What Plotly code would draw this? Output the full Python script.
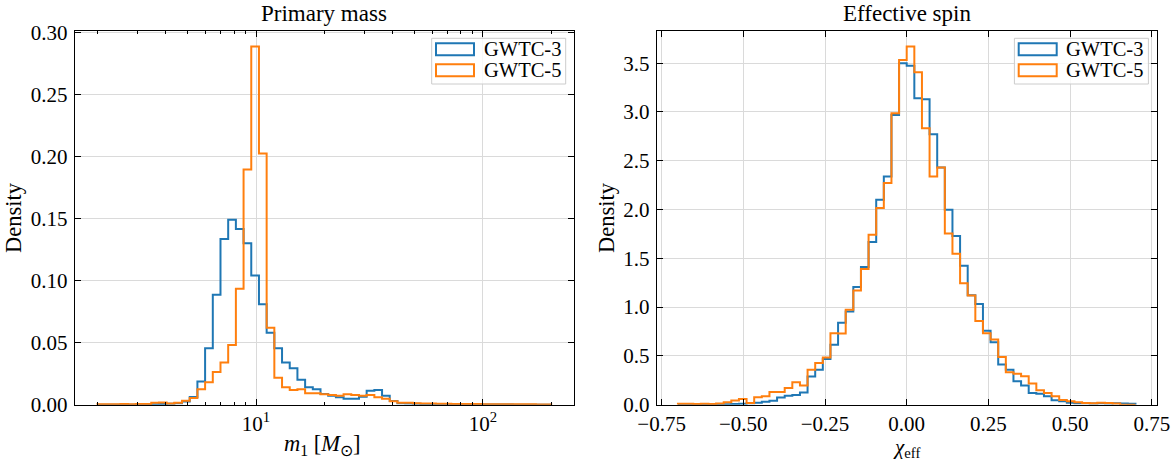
import numpy as np
import plotly.graph_objects as go

# ---------------- data ----------------
# Primary mass histogram (59 log-spaced bins from 2 to 200 Msun)
m1_edges = np.logspace(np.log10(2), np.log10(200), 60)
m1_gwtc3 = [0, 0, 0, 0, 0, 0, 0.0002, 0.0003, 0.0005, 0.0008,
            0.0012, 0.0025, 0.0062, 0.0186, 0.0455, 0.0885, 0.1335, 0.149, 0.1415, 0.130,
            0.104, 0.081, 0.058, 0.0455, 0.034, 0.0294, 0.020, 0.014, 0.0124, 0.0086,
            0.0073, 0.0059, 0.0048, 0.0048, 0.0065, 0.0113, 0.0119, 0.0073, 0.003, 0.0012,
            0.0010, 0.0008, 0.0006, 0.0005, 0.0004, 0.0003, 0.0003, 0.0002, 0.0002, 0.0002,
            0.0001, 0.0001, 0.0001, 0.0001, 0, 0, 0, 0, 0]
m1_gwtc5 = [0.0004, 0.0003, 0.0004, 0.0005, 0.0004, 0.0005, 0.0006, 0.0016, 0.0017, 0.0009,
            0.0016, 0.0032, 0.0053, 0.0124, 0.0180, 0.0264, 0.034, 0.048, 0.0934, 0.1894,
            0.2885, 0.2023, 0.062, 0.0218, 0.014, 0.0119, 0.0124, 0.0092, 0.0092, 0.0084,
            0.0078, 0.0073, 0.0084, 0.0078, 0.0073, 0.0078, 0.006, 0.0048, 0.0027, 0.0016,
            0.0015, 0.0012, 0.0010, 0.0009, 0.0008, 0.0007, 0.0006, 0.0006, 0.0005, 0.0005,
            0.0004, 0.0004, 0.0004, 0.0003, 0.0003, 0.0003, 0.0003, 0.0002, 0.0002]

# Effective spin histogram (60 bins from -0.7 to 0.7)
chi_edges = np.linspace(-0.7, 0.7, 61)
chi_gwtc3 = [0.0, 0.0, 0.002, 0.002, 0.003, 0.004, 0.005, 0.008, 0.010, 0.015,
             0.020, 0.030, 0.040, 0.075, 0.093, 0.100, 0.125, 0.290, 0.359, 0.469,
             0.615, 0.840, 0.956, 1.206, 1.412, 1.667, 2.100, 2.339, 2.970, 3.500,
             3.475, 3.141, 3.130, 2.773, 2.431, 1.998, 1.730, 1.424, 1.122, 1.033,
             0.759, 0.639, 0.411, 0.359, 0.240, 0.196, 0.121, 0.111, 0.086, 0.045,
             0.035, 0.020, 0.015, 0.015, 0.013, 0.015, 0.012, 0.015, 0.013, 0.010]
chi_gwtc5 = [0.010, 0.011, 0.008, 0.010, 0.008, 0.012, 0.025, 0.042, 0.059, 0.018,
             0.076, 0.086, 0.131, 0.131, 0.172, 0.229, 0.196, 0.359, 0.428, 0.485,
             0.733, 0.730, 0.974, 1.170, 1.390, 1.742, 2.015, 2.271, 2.987, 3.533,
             3.670, 3.407, 2.834, 2.339, 2.431, 1.755, 1.546, 1.244, 1.119, 0.858,
             0.732, 0.667, 0.489, 0.332, 0.318, 0.291, 0.216, 0.148, 0.121, 0.086,
             0.049, 0.035, 0.025, 0.018, 0.015, 0.020, 0.018, 0.012, 0.0, 0.0]

series_names = ["GWTC-3", "GWTC-5"]
colors = ["#1f77b4", "#ff7f0e"]
m1_ticks = [10, 100]
m1_ticktext = ["10<sup>1</sup>", "10<sup>2</sup>"]

# ---------------- figure ----------------
W, H = 1175, 462
FONT = "Liberation Serif"


def step_xy(edges, heights):
    x = [edges[0]] + list(edges)
    y = [0] + list(heights) + [0]
    return x, y


fig = go.Figure()
for name, col, h in zip(series_names, colors, [m1_gwtc3, m1_gwtc5]):
    x, y = step_xy(m1_edges, h)
    fig.add_trace(go.Scatter(x=x, y=y, mode="lines", line=dict(color=col, width=2, shape="hv"),
                             name=name, showlegend=False, xaxis="x", yaxis="y"))
for name, col, h in zip(series_names, colors, [chi_gwtc3, chi_gwtc5]):
    x, y = step_xy(chi_edges, h)
    fig.add_trace(go.Scatter(x=x, y=y, mode="lines", line=dict(color=col, width=2, shape="hv"),
                             name=name, showlegend=False, xaxis="x2", yaxis="y2"))


def px(xp):
    return xp / W


def py(yp):
    return 1 - yp / H


AX_L = (74.7, 574.0)
AX_R = (656.7, 1156.7)
AX_Y = (31.0, 404.7)

grid = "#dadada"
common = dict(showline=True, linecolor="black", linewidth=1.2, mirror="ticks",
              ticks="inside", ticklen=6, tickwidth=1.2, tickcolor="black",
              showgrid=True, gridcolor=grid, gridwidth=1, zeroline=False, automargin=False,
              tickfont=dict(family=FONT, size=21, color="black"))

log_lo = np.log10(m1_edges[0])
log_hi = np.log10(m1_edges[-1])
pad = 0.05 * (log_hi - log_lo)

minor_vals = [v * d for d in (1, 10, 100) for v in range(2, 10) if 2 <= v * d <= 250]

fig.update_layout(
    width=W, height=H,
    margin=dict(l=0, r=0, t=0, b=0, autoexpand=False),
    paper_bgcolor="white", plot_bgcolor="white",
    font=dict(family=FONT, size=21, color="black"),
    showlegend=False,
    xaxis=dict(common, type="log", domain=[px(AX_L[0]), px(AX_L[1])], anchor="y",
               range=[log_lo - pad, log_hi + pad], tickvals=m1_ticks, ticktext=m1_ticktext,
               minor=dict(ticks="inside", ticklen=3, tickwidth=1, tickcolor="black",
                          tickvals=minor_vals, showgrid=False)),
    yaxis=dict(common, domain=[py(AX_Y[1]), py(AX_Y[0])], anchor="x",
               range=[0, 0.301], dtick=0.05, tick0=0, tickformat=".2f", ticklabelstandoff=2),
    xaxis2=dict(common, domain=[px(AX_R[0]), px(AX_R[1])], anchor="y2",
                range=[-0.765, 0.765], dtick=0.25, tick0=0, tickformat=".2f"),
    yaxis2=dict(common, domain=[py(AX_Y[1]), py(AX_Y[0])], anchor="x2",
                range=[0, 3.83], dtick=0.5, tick0=0, tickformat=".1f", ticklabelstandoff=2),
)

ann = []
shapes = []


def text(x, y, s, size=21, xanchor="center", angle=0):
    ann.append(dict(x=px(x), y=py(y), xref="paper", yref="paper", text=s, showarrow=False,
                    xanchor=xanchor, yanchor="middle", textangle=angle,
                    font=dict(family=FONT, size=size, color="black")))


# titles and axis labels
text((AX_L[0] + AX_L[1]) / 2, 14, "Primary mass", 23)
text((AX_R[0] + AX_R[1]) / 2, 14, "Effective spin", 23)
text(13, 218, "Density", 22.5, angle=-90)
text(606, 218, "Density", 22.5, angle=-90)
text(323, 445, "<i>m</i><sub>1</sub> [<i>M</i><sub>⊙</sub>]", 22.5)
text(906, 448, "<i>χ</i><sub>eff</sub>", 21)

# legends (drawn in layout space)
for dx in (0, AX_R[1] - AX_L[1]):
    shapes.append(dict(type="rect", xref="paper", yref="paper",
                       x0=px(431.7 + dx), x1=px(565.7 + dx), y0=py(84), y1=py(38.3),
                       line=dict(color="#cccccc", width=1), fillcolor="rgba(255,255,255,0.8)",
                       layer="above"))
    for i, (name, col) in enumerate(zip(series_names, colors)):
        yc = 49.2 + i * 21.1
        shapes.append(dict(type="rect", xref="paper", yref="paper",
                           x0=px(436 + dx), x1=px(474 + dx), y0=py(yc + 6), y1=py(yc - 6),
                           line=dict(color=col, width=2), fillcolor="rgba(0,0,0,0)",
                           layer="above"))
        text(481.7 + dx, yc, name, 20.5, xanchor="left")

fig.update_layout(annotations=ann, shapes=shapes)
fig.write_html("out.html")
